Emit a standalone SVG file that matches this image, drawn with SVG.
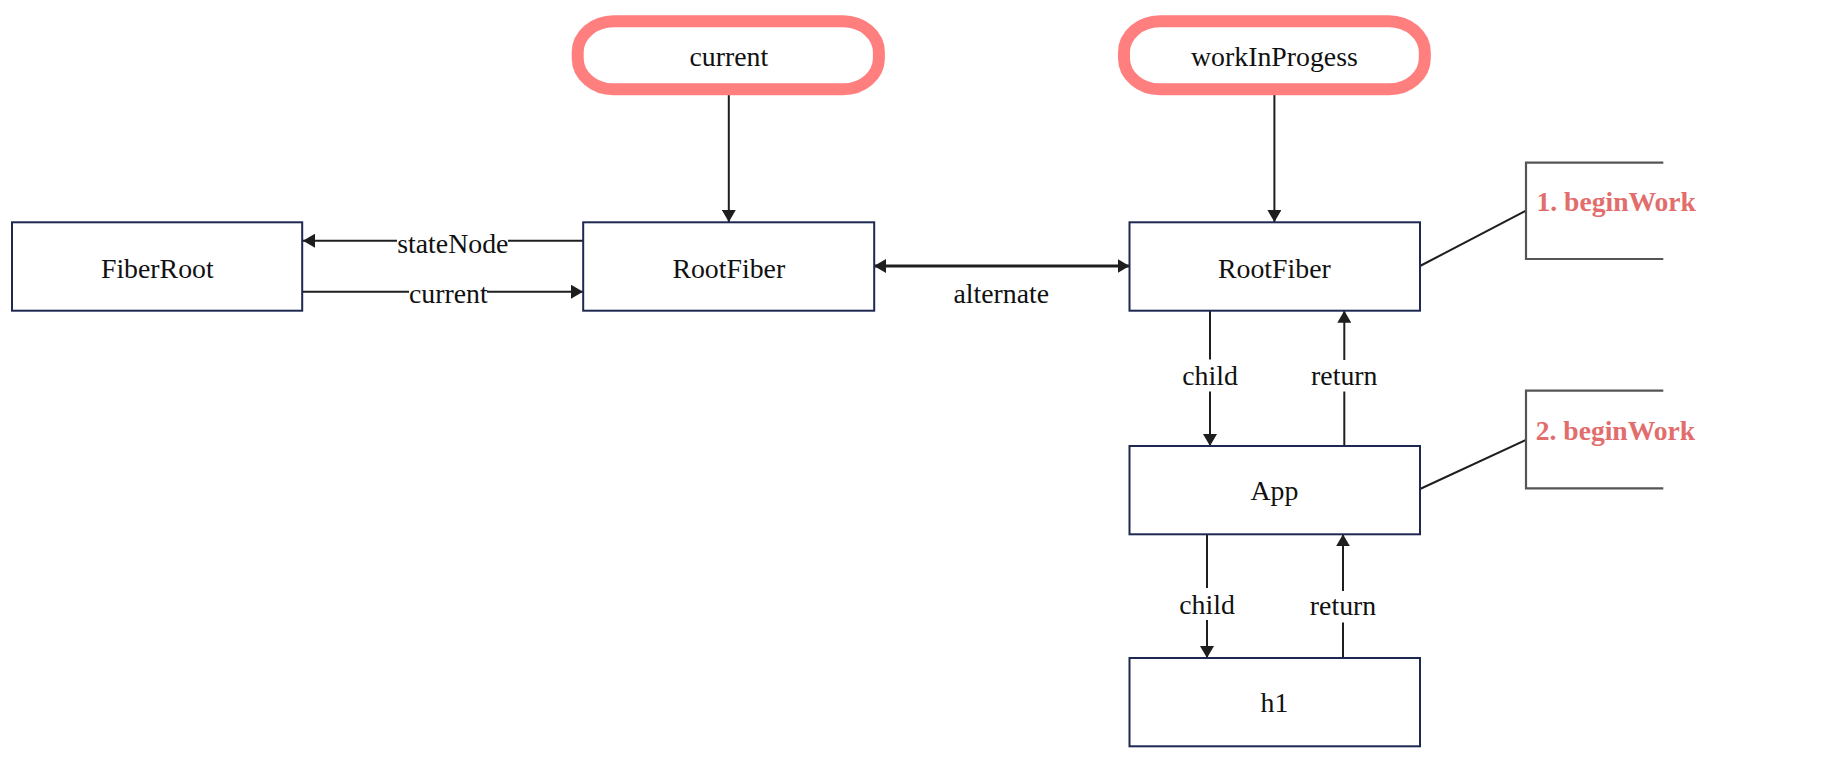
<svg xmlns="http://www.w3.org/2000/svg" width="1840" height="764" viewBox="0 0 1840 764">
<style>
.box{fill:#fff;stroke:#1e2952;stroke-width:2}
.pill{fill:#fff;stroke:#ff7f7f;stroke-width:12}
.t{font-family:"Liberation Serif","Times New Roman",serif;font-size:27.8px;fill:#111;text-anchor:middle}
.red{font-family:"Liberation Serif","Times New Roman",serif;font-size:27.6px;font-weight:bold;fill:#e26d6d}
.c{fill:none;stroke:#1e1e1e;stroke-width:2}
.thick{stroke-width:3}
.br{fill:none;stroke:#555;stroke-width:2.2}
.bg{fill:#fff}
</style>
<defs>
<marker id="ah" viewBox="0 0 12 14" refX="12" refY="7" markerWidth="12" markerHeight="14" markerUnits="userSpaceOnUse" orient="auto-start-reverse">
<path d="M0,0 L12,7 L0,14 z" fill="#1e1e1e"/>
</marker>
</defs>
<rect width="1840" height="764" fill="#fff"/>
<g id="connectors">
<line class="c" x1="728.8" y1="89" x2="728.8" y2="222" marker-end="url(#ah)"/>
<line class="c" x1="1274.4" y1="89" x2="1274.4" y2="222" marker-end="url(#ah)"/>
<line class="c" x1="583" y1="240.7" x2="303" y2="240.7" marker-end="url(#ah)"/>
<rect class="bg" x="397" y="226" width="111" height="30"/>
<text class="t" x="452.8" y="252.7">stateNode</text>
<line class="c" x1="302" y1="291.7" x2="583" y2="291.7" marker-end="url(#ah)"/>
<rect class="bg" x="409" y="278" width="78" height="28"/>
<text class="t" x="448.3" y="302.7">current</text>
<line class="c thick" x1="874" y1="266" x2="1129.5" y2="266" marker-start="url(#ah)" marker-end="url(#ah)"/>
<text class="t" x="1001.3" y="302.7">alternate</text>
<line class="c" x1="1210" y1="310.7" x2="1210" y2="446" marker-end="url(#ah)"/>
<rect class="bg" x="1180" y="359.5" width="60" height="32"/>
<text class="t" x="1210" y="385">child</text>
<line class="c" x1="1344.3" y1="446" x2="1344.3" y2="310.7" marker-end="url(#ah)"/>
<rect class="bg" x="1310" y="360" width="70" height="31.5"/>
<text class="t" x="1344.3" y="385">return</text>
<line class="c" x1="1207" y1="534.3" x2="1207" y2="658" marker-end="url(#ah)"/>
<rect class="bg" x="1177" y="588" width="60" height="32"/>
<text class="t" x="1207" y="613.7">child</text>
<line class="c" x1="1343" y1="658" x2="1343" y2="534.3" marker-end="url(#ah)"/>
<rect class="bg" x="1308" y="591" width="70" height="31.5"/>
<text class="t" x="1343" y="615.3">return</text>
<line class="c" x1="1420" y1="266" x2="1526" y2="210.7"/>
<line class="c" x1="1420" y1="489" x2="1526" y2="440"/>
</g>
<g id="pill-current">
<rect class="pill" x="577.7" y="21.3" width="301.2" height="68" rx="36" ry="31"/>
<text class="t" x="728.8" y="65.5">current</text>
</g>
<g id="pill-wip">
<rect class="pill" x="1124" y="21.3" width="300.8" height="68" rx="36" ry="31"/>
<text class="t" x="1274.4" y="65.5">workInProgess</text>
</g>
<g id="node-fiberroot">
<rect class="box" x="12" y="222.3" width="290.2" height="88.4"/>
<text class="t" x="157.3" y="277.5">FiberRoot</text>
</g>
<g id="node-rootfiber-current">
<rect class="box" x="583.2" y="222.3" width="291" height="88.4"/>
<text class="t" x="728.8" y="277.5">RootFiber</text>
</g>
<g id="node-rootfiber-wip">
<rect class="box" x="1129.5" y="222.3" width="290.5" height="88.4"/>
<text class="t" x="1274.4" y="277.5">RootFiber</text>
</g>
<g id="node-app">
<rect class="box" x="1129.5" y="446" width="290.5" height="88.3"/>
<text class="t" x="1274.4" y="500.3">App</text>
</g>
<g id="node-h1">
<rect class="box" x="1129.5" y="658" width="290.5" height="88.3"/>
<text class="t" x="1274.4" y="712">h1</text>
</g>
<g id="note-1">
<path class="br" d="M1663.3,162.7 H1526 V259 H1663.3"/>
<text class="red" x="1536.5" y="211">1. beginWork</text>
</g>
<g id="note-2">
<path class="br" d="M1663.3,390.7 H1526 V488.3 H1663.3"/>
<text class="red" x="1535.7" y="440">2. beginWork</text>
</g>
</svg>
